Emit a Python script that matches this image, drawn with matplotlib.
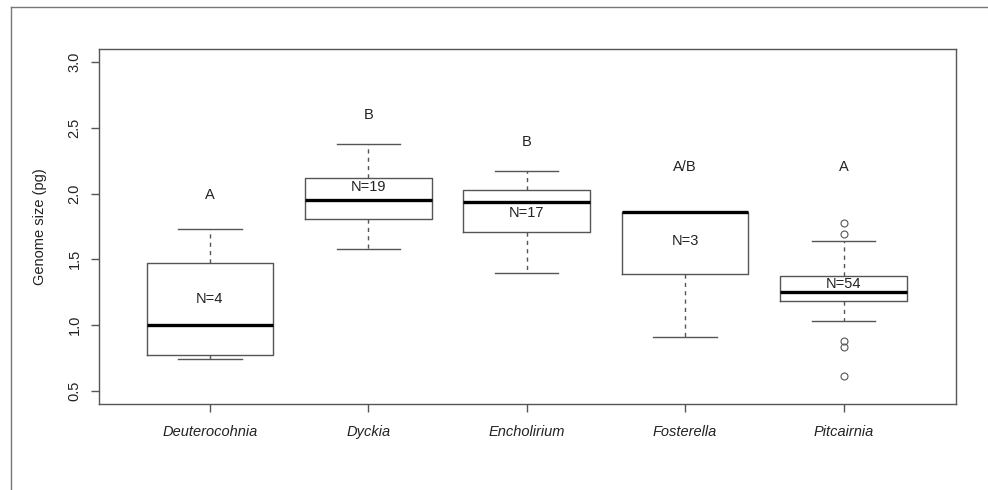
import matplotlib
matplotlib.use("Agg")
import matplotlib.pyplot as plt
from matplotlib.lines import Line2D

plt.rcParams['font.family'] = ['Liberation Sans', 'DejaVu Sans']

# genome size summaries per genus (pg)
genera = ['Deuterocohnia', 'Dyckia', 'Encholirium', 'Fosterella', 'Pitcairnia']
n_samples = [4, 19, 17, 3, 54]
whisker_low = [0.74, 1.58, 1.40, 0.91, 1.03]
q1 = [0.77, 1.81, 1.71, 1.39, 1.18]
medians = [1.00, 1.95, 1.94, 1.86, 1.25]
q3 = [1.47, 2.12, 2.03, 1.86, 1.37]
whisker_high = [1.73, 2.38, 2.17, 1.86, 1.64]
outliers = [[], [], [], [], [1.78, 1.69, 0.88, 0.83, 0.61]]

# Tukey group letters and where they sit
groups = ['A', 'B', 'B', 'A/B', 'A']
group_y = [1.99, 2.60, 2.39, 2.20, 2.20]
n_label_y = [1.20, 2.05, 1.85, 1.64, 1.31]

stats = []
for i, g in enumerate(genera):
    stats.append({
        'label': g,
        'whislo': whisker_low[i],
        'q1': q1[i],
        'med': medians[i],
        'q3': q3[i],
        'whishi': whisker_high[i],
        'fliers': outliers[i],
    })

edge = '#555555'

fig = plt.figure(figsize=(9.88, 4.90), dpi=100)
ax = fig.add_axes([0.1002, 0.1755, 0.8674, 0.7245])

positions = list(range(1, len(genera) + 1))
ax.bxp(stats, positions=positions, widths=0.8, capwidths=0.4,
       boxprops=dict(color=edge, linewidth=1.0),
       medianprops=dict(color='black', linewidth=2.4),
       whiskerprops=dict(color=edge, linewidth=1.0, linestyle=(0, (3, 3))),
       capprops=dict(color=edge, linewidth=1.0),
       flierprops=dict(marker='o', markerfacecolor='none', markeredgecolor=edge,
                       markersize=5, markeredgewidth=0.8))

for x, n, y in zip(positions, n_samples, n_label_y):
    ax.text(x, y, f'N={n}', ha='center', va='center', fontsize=10.5, color='#222222')
for x, g, y in zip(positions, groups, group_y):
    ax.text(x, y, g, ha='center', va='center', fontsize=10.5, color='#222222')

ax.set_xlim(0.30, 5.71)
ax.set_ylim(0.40, 3.10)
ax.set_yticks([0.5, 1.0, 1.5, 2.0, 2.5, 3.0])
ax.set_yticklabels(['0.5', '1.0', '1.5', '2.0', '2.5', '3.0'], rotation=90, va='center')
ax.set_xticks(positions)
ax.set_xticklabels(genera, fontstyle='italic')
ax.tick_params(axis='both', colors=edge, labelcolor='#222222', labelsize=10.5,
               length=6, width=1.0)
ax.tick_params(axis='x', pad=9)
ax.tick_params(axis='y', pad=6.5)
ax.set_ylabel('Genome size (pg)', fontsize=10.5, color='#222222', labelpad=15)
for s in ax.spines.values():
    s.set_color(edge)
    s.set_linewidth(1.0)

# outer frame, top and left edges only
fig.add_artist(Line2D([11 / 988, 1.0], [1 - 7 / 490, 1 - 7 / 490],
                      transform=fig.transFigure, color='#777777', linewidth=1.0))
fig.add_artist(Line2D([11 / 988, 11 / 988], [0.0, 1 - 7 / 490],
                      transform=fig.transFigure, color='#777777', linewidth=1.0))

fig.savefig('out.png', dpi=100)
